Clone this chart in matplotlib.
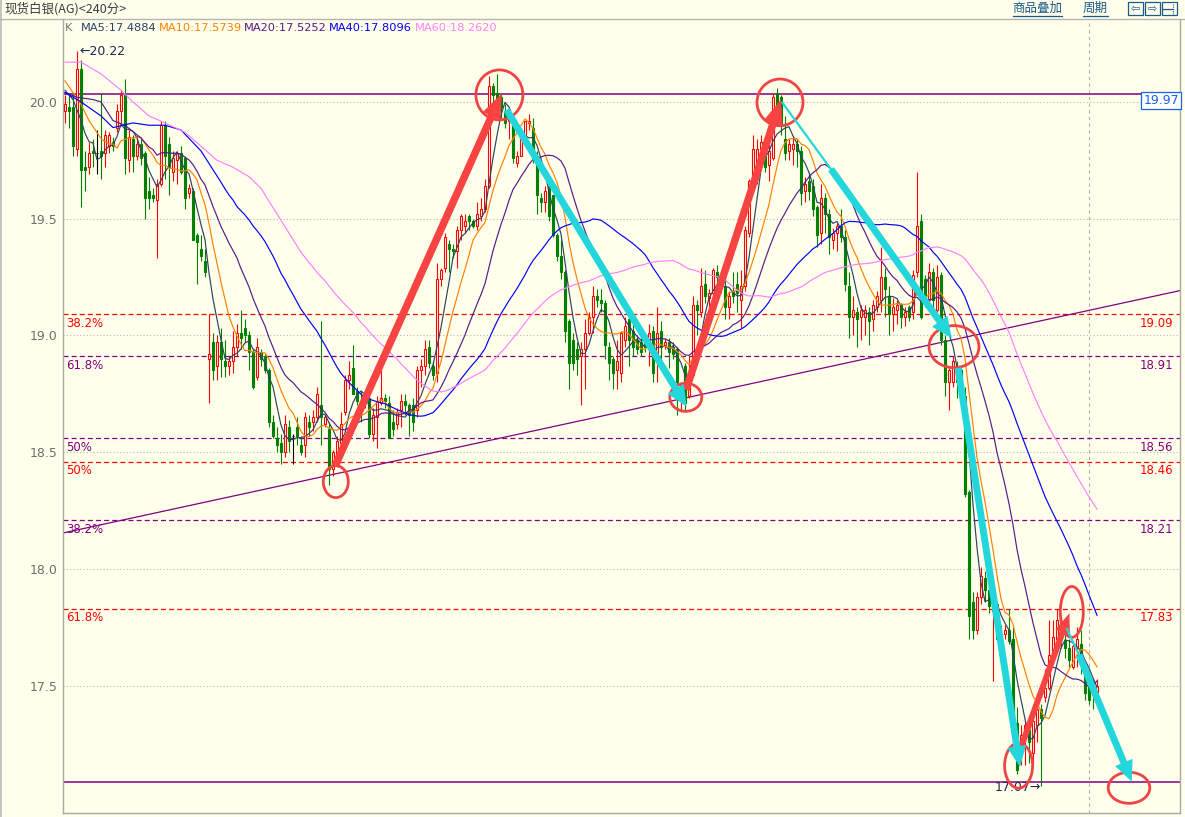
import numpy as np
import pandas as pd
import matplotlib
matplotlib.use('Agg')
import matplotlib.pyplot as plt
import matplotlib.transforms as mtransforms
from matplotlib.patches import Ellipse, FancyArrowPatch, Rectangle
from matplotlib.lines import Line2D

plt.rcParams['font.family'] = ['DejaVu Sans', 'Noto Sans CJK SC']

# 240 min candles
opens = [19.96, 19.98, 19.98, 19.80, 20.14, 19.72, 19.72, 19.79, 19.78, 19.79,
         19.78, 19.81, 19.83, 19.89, 19.96, 20.03, 19.75, 19.84, 19.77, 19.82,
         19.78, 19.62, 19.60, 19.58, 19.65, 19.90, 19.82, 19.70, 19.75, 19.78,
         19.76, 19.61, 19.62, 19.43, 19.37, 19.32, 18.90, 18.97, 18.87, 18.97,
         18.89, 18.87, 18.89, 18.95, 19.01, 19.03, 19.00, 18.93, 18.82, 18.93,
         18.91, 18.85, 18.63, 18.56, 18.54, 18.50, 18.61, 18.57, 18.61, 18.53,
         18.53, 18.63, 18.63, 18.65, 18.70, 18.62, 18.60, 18.43, 18.48, 18.54,
         18.67, 18.81, 18.86, 18.76, 18.72, 18.71, 18.73, 18.58, 18.65, 18.71,
         18.73, 18.71, 18.63, 18.62, 18.68, 18.72, 18.70, 18.70, 18.68, 18.85,
         18.87, 18.95, 18.87, 18.84, 19.24, 19.29, 19.39, 19.37, 19.36, 19.45,
         19.47, 19.51, 19.49, 19.47, 19.51, 19.54, 19.64, 20.07, 20.04, 20.02,
         19.96, 19.92, 19.92, 19.74, 19.77, 19.86, 19.91, 19.89, 19.77, 19.59,
         19.57, 19.64, 19.60, 19.43, 19.34, 19.27, 19.06, 18.98, 18.94, 18.91,
         18.94, 19.01, 19.08, 19.17, 19.15, 19.14, 18.95, 18.90, 18.85, 18.84,
         18.98, 19.07, 19.02, 18.98, 18.97, 18.98, 18.95, 19.02, 18.90, 19.02,
         18.96, 18.97, 18.95, 18.94, 18.77, 18.87, 18.74, 18.83, 19.13, 19.10,
         19.22, 19.16, 19.18, 19.27, 19.25, 19.21, 19.12, 19.19, 19.22, 19.15,
         19.21, 19.44, 19.66, 19.67, 19.80, 19.77, 19.73, 19.76, 20.04, 20.02,
         19.84, 19.79, 19.80, 19.82, 19.79, 19.62, 19.66, 19.64, 19.55, 19.44,
         19.59, 19.52, 19.41, 19.44, 19.47, 19.42, 19.21, 19.08, 19.10, 19.08,
         19.08, 19.10, 19.07, 19.12, 19.15, 19.25, 19.17, 19.09, 19.11, 19.13,
         19.08, 19.12, 19.10, 19.27, 19.49, 19.24, 19.15, 19.27, 19.11, 19.26,
         18.98, 18.80, 18.80, 18.87, 18.85, 18.74, 18.33, 17.86, 17.74, 17.88,
         17.96, 17.91, 17.82, 17.85, 17.70, 17.72, 17.74, 17.70, 17.34, 17.24,
         17.27, 17.31, 17.21, 17.33, 17.40, 17.45, 17.49, 17.63, 17.70, 17.77,
         17.69, 17.66, 17.58, 17.66, 17.68, 17.56, 17.50, 17.52, 17.47]
highs = [20.03, 20.04, 20.04, 20.22, 20.18, 19.79, 19.83, 19.84, 19.88, 20.04,
         19.88, 19.87, 19.85, 19.99, 20.05, 20.10, 19.88, 19.86, 19.86, 19.84,
         19.79, 19.68, 19.63, 19.67, 19.92, 19.92, 19.85, 19.79, 19.79, 19.81,
         19.77, 19.65, 19.63, 19.44, 19.43, 19.37, 19.09, 19.01, 19.00, 19.03,
         18.98, 18.91, 19.02, 19.05, 19.11, 19.07, 19.02, 18.94, 18.99, 18.94,
         18.92, 18.86, 18.66, 18.61, 18.58, 18.66, 18.64, 18.58, 18.65, 18.57,
         18.67, 18.66, 18.68, 18.78, 19.06, 18.66, 18.63, 18.51, 18.57, 18.67,
         18.83, 18.89, 18.96, 18.78, 18.76, 18.75, 18.75, 18.69, 18.74, 18.85,
         18.75, 18.74, 18.68, 18.69, 18.75, 18.75, 18.71, 18.73, 18.87, 18.90,
         18.98, 18.98, 18.89, 19.31, 19.29, 19.44, 19.41, 19.39, 19.47, 19.52,
         19.52, 19.52, 19.50, 19.57, 19.59, 19.67, 20.11, 20.08, 20.12, 20.04,
         19.99, 19.98, 19.94, 19.79, 19.88, 19.92, 19.95, 19.93, 19.79, 19.61,
         19.64, 19.65, 19.60, 19.44, 19.41, 19.28, 19.07, 19.01, 18.97, 18.97,
         19.07, 19.10, 19.21, 19.20, 19.20, 19.15, 18.97, 18.91, 18.98, 19.02,
         19.08, 19.10, 19.05, 19.00, 19.02, 19.00, 19.05, 19.04, 19.12, 19.06,
         18.99, 18.99, 18.97, 18.95, 18.80, 18.88, 18.91, 19.17, 19.15, 19.29,
         19.28, 19.20, 19.29, 19.30, 19.26, 19.27, 19.19, 19.27, 19.27, 19.28,
         19.47, 19.67, 19.86, 19.84, 19.86, 19.80, 19.82, 20.04, 20.06, 20.03,
         19.94, 19.84, 19.85, 19.84, 19.81, 19.68, 19.70, 19.67, 19.56, 19.65,
         19.61, 19.54, 19.46, 19.48, 19.54, 19.45, 19.27, 19.17, 19.12, 19.13,
         19.13, 19.12, 19.15, 19.19, 19.38, 19.29, 19.21, 19.16, 19.15, 19.14,
         19.12, 19.13, 19.28, 19.70, 19.52, 19.26, 19.31, 19.29, 19.30, 19.27,
         19.00, 18.86, 18.91, 18.89, 18.86, 18.78, 18.34, 17.90, 17.90, 18.01,
         17.99, 17.94, 17.86, 17.86, 17.76, 17.76, 17.83, 17.75, 17.41, 17.33,
         17.35, 17.37, 17.37, 17.46, 17.42, 17.57, 17.78, 17.78, 17.83, 17.80,
         17.72, 17.70, 17.69, 17.75, 17.74, 17.58, 17.52, 17.53, 17.53]
lows = [19.91, 19.89, 19.77, 19.77, 19.55, 19.62, 19.69, 19.72, 19.69, 19.67,
        19.72, 19.78, 19.79, 19.87, 19.91, 19.69, 19.70, 19.70, 19.75, 19.73,
        19.50, 19.54, 19.57, 19.33, 19.64, 19.67, 19.60, 19.66, 19.65, 19.69,
        19.54, 19.59, 19.41, 19.22, 19.32, 19.25, 18.71, 18.81, 18.81, 18.82,
        18.82, 18.83, 18.84, 18.91, 18.94, 18.97, 18.85, 18.77, 18.81, 18.87,
        18.84, 18.61, 18.56, 18.50, 18.45, 18.48, 18.50, 18.45, 18.53, 18.49,
        18.48, 18.57, 18.59, 18.63, 18.53, 18.61, 18.36, 18.40, 18.46, 18.53,
        18.66, 18.77, 18.75, 18.70, 18.63, 18.69, 18.56, 18.55, 18.52, 18.70,
        18.69, 18.56, 18.57, 18.60, 18.61, 18.66, 18.57, 18.59, 18.65, 18.78,
        18.83, 18.86, 18.81, 18.80, 19.21, 19.27, 19.27, 19.33, 19.29, 19.41,
        19.44, 19.45, 19.46, 19.45, 19.49, 19.53, 19.63, 19.95, 19.93, 19.93,
        19.89, 19.84, 19.74, 19.72, 19.77, 19.83, 19.88, 19.74, 19.52, 19.53,
        19.53, 19.49, 19.42, 19.32, 19.24, 18.97, 18.77, 18.85, 18.83, 18.70,
        18.77, 19.00, 19.01, 19.12, 19.10, 18.90, 18.81, 18.77, 18.77, 18.80,
        18.95, 18.87, 18.91, 18.92, 18.91, 18.93, 18.87, 18.80, 18.80, 18.88,
        18.94, 18.86, 18.90, 18.66, 18.67, 18.68, 18.73, 18.82, 19.00, 19.08,
        19.14, 19.10, 19.13, 19.22, 19.18, 19.07, 19.07, 19.14, 19.10, 19.03,
        19.19, 19.42, 19.65, 19.65, 19.75, 19.70, 19.66, 19.75, 19.90, 19.86,
        19.75, 19.75, 19.73, 19.72, 19.56, 19.57, 19.58, 19.51, 19.38, 19.39,
        19.44, 19.35, 19.37, 19.36, 19.40, 19.19, 18.99, 19.00, 18.95, 18.98,
        19.00, 18.96, 19.02, 19.10, 19.10, 19.08, 19.00, 19.02, 19.05, 19.03,
        19.04, 19.06, 19.07, 19.25, 19.07, 19.12, 19.12, 19.11, 19.10, 18.96,
        18.74, 18.68, 18.78, 18.73, 18.71, 18.31, 17.70, 17.70, 17.72, 17.85,
        17.86, 17.81, 17.52, 17.69, 17.66, 17.70, 17.68, 17.30, 17.12, 17.16,
        17.16, 17.17, 17.16, 17.26, 17.07, 17.43, 17.48, 17.61, 17.68, 17.66,
        17.62, 17.58, 17.57, 17.58, 17.55, 17.44, 17.42, 17.40, 17.43]
closes = [19.99, 19.96, 19.81, 20.14, 19.71, 19.71, 19.78, 19.78, 19.78, 19.77,
          19.86, 19.86, 19.81, 19.96, 20.03, 19.76, 19.85, 19.77, 19.82, 19.76,
          19.59, 19.59, 19.59, 19.65, 19.90, 19.77, 19.72, 19.76, 19.78, 19.70,
          19.59, 19.63, 19.41, 19.40, 19.34, 19.27, 18.92, 18.85, 18.97, 18.90,
          18.87, 18.89, 18.95, 19.01, 18.99, 19.00, 18.93, 18.78, 18.95, 18.90,
          18.85, 18.63, 18.57, 18.53, 18.50, 18.62, 18.55, 18.57, 18.57, 18.50,
          18.65, 18.61, 18.65, 18.75, 18.65, 18.65, 18.43, 18.50, 18.55, 18.62,
          18.81, 18.83, 18.75, 18.72, 18.70, 18.74, 18.58, 18.66, 18.72, 18.73,
          18.72, 18.56, 18.60, 18.67, 18.72, 18.70, 18.66, 18.63, 18.85, 18.87,
          18.94, 18.88, 18.83, 19.24, 19.28, 19.42, 19.37, 19.36, 19.45, 19.51,
          19.49, 19.49, 19.47, 19.52, 19.54, 19.64, 20.07, 20.03, 20.00, 19.98,
          19.91, 19.97, 19.76, 19.77, 19.86, 19.92, 19.92, 19.77, 19.60, 19.57,
          19.62, 19.51, 19.43, 19.34, 19.27, 19.02, 18.88, 18.88, 18.90, 18.94,
          19.01, 19.08, 19.17, 19.15, 19.14, 18.96, 18.88, 18.84, 18.89, 19.01,
          19.04, 18.98, 18.95, 18.94, 18.93, 18.95, 19.01, 18.84, 19.01, 18.95,
          18.97, 18.93, 18.92, 18.80, 18.79, 18.71, 18.83, 19.13, 19.11, 19.21,
          19.17, 19.18, 19.28, 19.25, 19.21, 19.12, 19.17, 19.17, 19.18, 19.21,
          19.45, 19.66, 19.80, 19.80, 19.83, 19.72, 19.79, 20.02, 19.95, 19.90,
          19.78, 19.82, 19.82, 19.79, 19.61, 19.65, 19.62, 19.54, 19.43, 19.59,
          19.52, 19.42, 19.44, 19.47, 19.42, 19.22, 19.08, 19.11, 19.07, 19.11,
          19.11, 19.06, 19.13, 19.17, 19.25, 19.20, 19.09, 19.12, 19.13, 19.08,
          19.10, 19.08, 19.26, 19.47, 19.08, 19.17, 19.27, 19.15, 19.25, 18.98,
          18.80, 18.85, 18.89, 18.80, 18.72, 18.32, 17.80, 17.74, 17.88, 17.97,
          17.91, 17.84, 17.84, 17.70, 17.72, 17.74, 17.69, 17.34, 17.14, 17.29,
          17.33, 17.26, 17.35, 17.40, 17.36, 17.49, 17.63, 17.71, 17.78, 17.70,
          17.66, 17.61, 17.67, 17.70, 17.60, 17.47, 17.44, 17.46, 17.50]

ma_windows = [5, 10, 20, 40, 60]
ma_names = ['MA5:17.4884', 'MA10:17.5739', 'MA20:17.5252', 'MA40:17.8096', 'MA60:18.2620']
ma_colors = ['#2B4263', '#FF8000', '#55198B', '#0000FF', '#FF80FF']
# where a window is not full yet the line is read straight off the chart
ma_lead_idx = {5: [0, 2], 10: [0, 4, 6], 20: [0, 3, 7, 9, 12, 15],
               40: [0, 4, 9, 12, 17, 21, 25, 29, 34],
               60: [0, 4, 9, 14, 17, 21, 25, 30, 34, 38, 42, 46, 49, 53]}
ma_lead_val = {5: [20.05, 20.01], 10: [20.09, 19.99, 19.92],
               20: [20.04, 20.02, 20.01, 20.00, 19.92, 19.90],
               40: [20.04, 20.00, 19.94, 19.89, 19.91, 19.90, 19.90, 19.88, 19.79],
               60: [20.17, 20.17, 20.12, 20.05, 20.00, 19.94, 19.91, 19.87, 19.81,
                    19.75, 19.72, 19.68, 19.63, 19.52]}

grid_levels = [17.5, 18.0, 18.5, 19.0, 19.5, 20.0]
fib_levels = [19.09, 18.91, 18.56, 18.46, 18.21, 17.83]
fib_pct = ['38.2%', '61.8%', '50%', '50%', '38.2%', '61.8%']
fib_red = [True, False, False, True, False, True]
top_line = 20.034
bottom_line = 17.088
trend_x = [-0.5, 278.75]
trend_y = [18.154, 19.192]
cursor_idx = 256

# hand-drawn marks: (index, price, width in bars, height in price)
circles = [(67.7, 18.374, 6.25, 0.137), (108.6, 20.03, 11.75, 0.214),
           (155.2, 18.735, 8.0, 0.12), (178.75, 19.998, 11.5, 0.20),
           (222.25, 18.952, 12.5, 0.18), (238.4, 17.158, 7.0, 0.193),
           (251.7, 17.816, 5.75, 0.218), (266.0, 17.063, 10.4, 0.133)]
red_arrows = [((67.5, 18.44), (109.2, 20.037), 20),
              ((155.25, 18.767), (179.0, 20.011), 20),
              ((238.75, 17.225), (251.1, 17.81), 16)]
cyan_thin = [((179.2, 20.0), (192.0, 19.70)), ((250.4, 17.747), (253.75, 17.623))]
cyan_arrows = [((110.4, 19.966), (155.4, 18.695)),
               ((191.5, 19.712), (221.7, 18.988)),
               ((223.25, 18.861), (238.75, 17.152)),
               ((253.5, 17.632), (266.7, 17.089))]

bg = '#FFFFEC'
red = '#FF0000'
green = '#008000'
purple = '#800080'

W, H = 1185, 817
fig = plt.figure(figsize=(W / 100, H / 100), dpi=100, facecolor=bg)
ax = fig.add_axes([63 / W, (H - 813) / H, (1180 - 63) / W, (813 - 19) / H])
ax.set_facecolor(bg)
ax.set_xlim(-0.5, 278.75)
ax.set_ylim(16.955, 20.355)

o = np.array(opens)
h = np.array(highs)
l = np.array(lows)
c = np.array(closes)
idx = np.arange(len(c))
up = c > o
dn = c < o
flat = c == o

# candles: red hollow up, green filled down
ax.vlines(idx[up], l[up], h[up], color=red, lw=0.8, zorder=3)
ax.bar(idx[up], (c - o)[up], bottom=o[up], width=0.72, facecolor=bg,
       edgecolor=red, lw=0.8, zorder=4)
ax.vlines(idx[dn], l[dn], h[dn], color=green, lw=0.8, zorder=3)
ax.bar(idx[dn], (c - o)[dn], bottom=o[dn], width=0.72, facecolor=green,
       edgecolor=green, lw=0.8, zorder=4)
ax.vlines(idx[flat], l[flat], h[flat], color='black', lw=0.8, zorder=3)
ax.hlines(c[flat], idx[flat] - 0.36, idx[flat] + 0.36, color='black', lw=0.8, zorder=4)

# moving averages
s = pd.Series(closes)
for w, col in zip(ma_windows, ma_colors):
    roll = s.rolling(w).mean().to_numpy()
    xs = list(ma_lead_idx[w]) + list(idx[w - 1:])
    ys = list(ma_lead_val[w]) + list(roll[w - 1:])
    ax.plot(xs, ys, color=col, lw=0.85, zorder=5)

for v in grid_levels:
    ax.axhline(v, color='#B4B4B4', ls=(0, (1, 2)), lw=0.8, zorder=1)

trans = mtransforms.blended_transform_factory(ax.transAxes, ax.transData)
for lev, pct, is_red in zip(fib_levels, fib_pct, fib_red):
    col = red if is_red else purple
    ax.axhline(lev, color=col, ls=(0, (4, 2.5)), lw=0.9, zorder=2)
    ax.text(0.003, lev - 0.012, pct, transform=trans, color=col, fontsize=8.5,
            ha='left', va='top', zorder=6)
    ax.text(0.9937, lev - 0.012, f'{lev:.2f}', transform=trans, color=col,
            fontsize=8.5, ha='right', va='top', zorder=6)

ax.axhline(top_line, color=purple, lw=1.1, zorder=2)
ax.axhline(bottom_line, color=purple, lw=1.1, zorder=2)
ax.plot(trend_x, trend_y, color=purple, lw=0.9, zorder=2)
ax.axvline(cursor_idx, color='#B0B0B0', ls=(0, (3, 3)), lw=0.8, zorder=1)

ax.text(0.983, 20.006, '19.97', transform=trans, color='#1560F0', fontsize=9,
        ha='center', va='center', zorder=7,
        bbox=dict(boxstyle='square,pad=0.15', facecolor='white', edgecolor='#1560F0', lw=0.9))
ax.text(3.5, 20.214, '←20.22', color='#1A2A50', fontsize=9, ha='left', va='center', zorder=6)
ax.text(244.0, 17.066, '17.07→', color='#1A2A50', fontsize=9, ha='right', va='center', zorder=6)

# annotations drawn on the chart
for cx, cy, ew, eh in circles:
    ax.add_patch(Ellipse((cx, cy), ew, eh, fill=False, edgecolor='#EE4444', lw=2.0, zorder=8))
for tail, head, ms in red_arrows:
    ax.add_patch(FancyArrowPatch(tail, head, arrowstyle='simple,head_length=0.9,head_width=0.7,tail_width=0.27',
                                 mutation_scale=ms, color='#F84343', lw=0, shrinkA=0, shrinkB=0, zorder=9))
for tail, head in cyan_thin:
    ax.plot([tail[0], head[0]], [tail[1], head[1]], color='#22D6DC', lw=1.6, zorder=9,
            solid_capstyle='butt')
for tail, head in cyan_arrows:
    ax.add_patch(FancyArrowPatch(tail, head, arrowstyle='simple,head_length=0.75,head_width=0.68,tail_width=0.25',
                                 mutation_scale=20, color='#22D6DC', lw=0, shrinkA=0, shrinkB=0, zorder=9))

ax.set_xticks([])
ax.set_yticks(grid_levels)
ax.set_yticklabels([f'{v:.1f}' for v in grid_levels])
ax.tick_params(axis='y', length=0, pad=4, labelsize=9, labelcolor='#6E6E6E')
for side in ['left', 'right', 'bottom']:
    ax.spines[side].set_color('#A8A8A8')
    ax.spines[side].set_linewidth(1.0)
ax.spines['top'].set_visible(False)

# header bar
fig.add_artist(Rectangle((0, 0), 2 / W, 1, transform=fig.transFigure, color='#C4C4C4', lw=0))
fig.add_artist(Line2D([0, 1], [1 - 18.5 / H] * 2, color='#B4B4B4', lw=1.0))
fig.text(4 / W, 1 - 9 / H, '现货白银(AG)<240分>', fontsize=9, color='#3C3C3C', va='center',
         family=['Noto Sans CJK SC', 'DejaVu Sans'])
hdr_col = '#1A5A8A'
for label, x0, x1 in [('商品叠加', 1013, 1062), ('周期', 1083, 1108)]:
    fig.text((x0 + x1) / 2 / W, 1 - 8 / H, label, fontsize=9, color=hdr_col, ha='center',
             va='center', family=['Noto Sans CJK SC', 'DejaVu Sans'])
    fig.add_artist(Line2D([x0 / W, x1 / W], [1 - 15.5 / H] * 2, color=hdr_col, lw=0.9))
for k, (x0, sym) in enumerate([(1128, '⇦'), (1145, '⇨'), (1162, '')]):
    fig.add_artist(Rectangle((x0 / W, 1 - 15 / H), 15 / W, 13 / H, transform=fig.transFigure,
                             fill=False, edgecolor=hdr_col, lw=0.9))
    if sym:
        fig.text((x0 + 7.5) / W, 1 - 8.5 / H, sym, fontsize=8, color=hdr_col, ha='center', va='center')
    else:
        fig.add_artist(Line2D([x0 / W, (x0 + 11) / W], [1 - 8.5 / H] * 2, color=hdr_col, lw=0.9))
        fig.add_artist(Line2D([(x0 + 11) / W] * 2, [1 - 14 / H, 1 - 3 / H], color=hdr_col, lw=0.8,
                              ls=(0, (1, 1))))

# legend row
fig.text(65 / W, 1 - 28 / H, 'K', fontsize=8.2, color='#777777', va='center')
for name, col, x0 in zip(ma_names, ma_colors, [81, 159, 244, 329, 415]):
    fig.text(x0 / W, 1 - 28 / H, name, fontsize=8.2, color=col, va='center')

fig.savefig('out.png', dpi=100, facecolor=bg)
